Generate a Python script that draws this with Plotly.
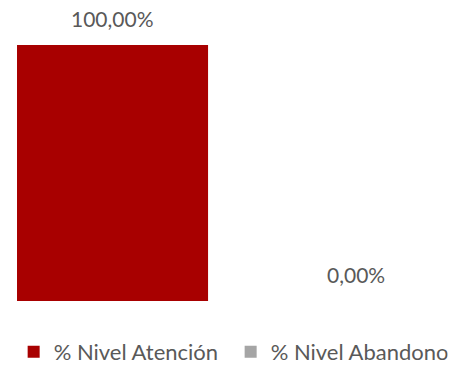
import plotly.graph_objects as go

categories = ["% Nivel Atención", "% Nivel Abandono"]
values = [100.0, 0.0]
labels = ["100,00%", "0,00%"]
colors = ["#A80000", "#A5A5A5"]

FONT = "Lato"
TXT = "#595959"

fig = go.Figure()
for c, v, col in zip(categories, values, colors):
    fig.add_trace(go.Bar(
        x=[c], y=[v], name=c, marker=dict(color=col, line=dict(width=0)),
        width=0.786, cliponaxis=False, hoverinfo="skip",
    ))

for c, v, t in zip(categories, values, labels):
    fig.add_annotation(x=c, y=v, text=t, showarrow=False, yanchor="middle",
                       yshift=27, font=dict(family=FONT, size=21, color=TXT))

fig.update_layout(
    width=455, height=365,
    margin=dict(l=0, r=0, t=20, b=64, autoexpand=False),
    paper_bgcolor="white", plot_bgcolor="white",
    barmode="overlay",
    showlegend=True,
    legend=dict(orientation="h", x=0.03, xanchor="left", xref="container",
                y=0.036, yanchor="middle", yref="container", entrywidth=172,
                font=dict(family=FONT, size=22, color=TXT), itemclick=False),
    xaxis=dict(type="category", categoryorder="array", categoryarray=categories,
               range=[-0.463, 1.409], visible=False),
    yaxis=dict(range=[0, 109.77], visible=False),
)

fig.write_html("out.html")
